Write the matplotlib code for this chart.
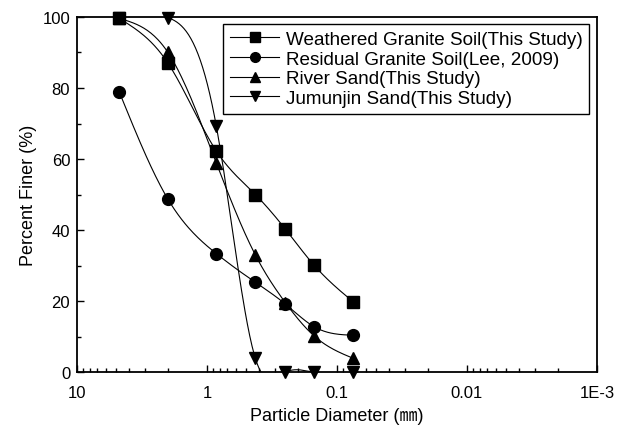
"""Grain size distribution curves (sieve analysis)."""
import numpy as np
import matplotlib
matplotlib.use("Agg")
import matplotlib.pyplot as plt
from matplotlib.ticker import FixedLocator, LogLocator, MultipleLocator, NullFormatter

plt.rcParams["font.family"] = ["Liberation Sans", "Noto Sans CJK KR", "DejaVu Sans"]

# sieve openings (mm)
sieve = [4.75, 2.0, 0.85, 0.425, 0.25, 0.15, 0.075]
weathered = [99.6, 87, 62.3, 50, 40.3, 30.1, 19.8]
residual = [79, 48.7, 33.4, 25.3, 19.2, 12.8, 10.4]
river = [99.6, 90, 59, 33, 19.6, 10.2, 3.9]
jumunjin = [99.8, 99.8, 69.4, 3.9, 0, 0, 0]

names = ["Weathered Granite Soil(This Study)", "Residual Granite Soil(Lee, 2009)",
         "River Sand(This Study)", "Jumunjin Sand(This Study)"]
markers = ["s", "o", "^", "v"]
xticks = [10, 1, 0.1, 0.01, 0.001]
xtick_lbl = ["10", "1", "0.1", "0.01", "1E-3"]


def spline(x, y, n=200):
    # natural cubic spline in log10(x)
    t = np.log10(x)[::-1]; y = np.asarray(y, float)[::-1]
    k = len(t); h = np.diff(t)
    A = np.zeros((k, k)); b = np.zeros(k)
    A[0, 0] = A[-1, -1] = 1
    for i in range(1, k - 1):
        A[i, i-1] = h[i-1]; A[i, i] = 2 * (h[i-1] + h[i]); A[i, i+1] = h[i]
        b[i] = 6 * ((y[i+1] - y[i]) / h[i] - (y[i] - y[i-1]) / h[i-1])
    M = np.linalg.solve(A, b)
    tt = np.linspace(t[0], t[-1], n)
    j = np.clip(np.searchsorted(t, tt) - 1, 0, k - 2)
    a = (t[j+1] - tt) / h[j]; c = (tt - t[j]) / h[j]
    yy = a * y[j] + c * y[j+1] + ((a**3 - a) * M[j] + (c**3 - c) * M[j+1]) * h[j]**2 / 6
    return 10**tt, yy


fig = plt.figure(figsize=(6.27, 4.27), dpi=100)
ax = fig.add_axes([0.123, 0.126, 0.829, 0.832])
for ys, m, lab in zip([weathered, residual, river, jumunjin], markers, names):
    xs, yy = spline(sieve, ys)
    ax.plot(xs, yy, "k-", lw=0.8)
    ax.plot(sieve, ys, "k", ls="none", marker=m, ms=8.5, clip_on=False, zorder=3)
    ax.plot([], [], "k-", lw=0.8, marker=m, ms=7, label=lab)

ax.set_xscale("log")
ax.set_xlim(10, 0.001)
ax.set_ylim(0, 100)
ax.xaxis.set_major_locator(FixedLocator(xticks))
ax.set_xticklabels(xtick_lbl)
ax.xaxis.set_minor_locator(LogLocator(base=10, subs=np.arange(2, 10)))
ax.xaxis.set_minor_formatter(NullFormatter())
ax.yaxis.set_major_locator(MultipleLocator(20))
ax.yaxis.set_minor_locator(MultipleLocator(10))
ax.tick_params(which="both", direction="in", labelsize=12)
ax.tick_params(which="major", length=5, width=1)
ax.tick_params(which="minor", length=3, width=1)
ax.tick_params(axis="x", which="major", pad=9)
ax.tick_params(axis="y", which="major", pad=5)
for s in ax.spines.values():
    s.set_linewidth(1.3)

ax.set_xlabel("Particle Diameter (㎜)", fontsize=13, labelpad=5)
ax.set_ylabel("Percent Finer (%)", fontsize=13, labelpad=4)

leg = ax.legend(loc="upper right", bbox_to_anchor=(0.985, 0.98), borderaxespad=0,
                fontsize=13.6, frameon=True, fancybox=False, edgecolor="k",
                framealpha=1, handlelength=2.6, handletextpad=0.35,
                borderpad=0.35, labelspacing=0.13)
leg.get_frame().set_linewidth(1)

fig.savefig("out.png", dpi=100)
